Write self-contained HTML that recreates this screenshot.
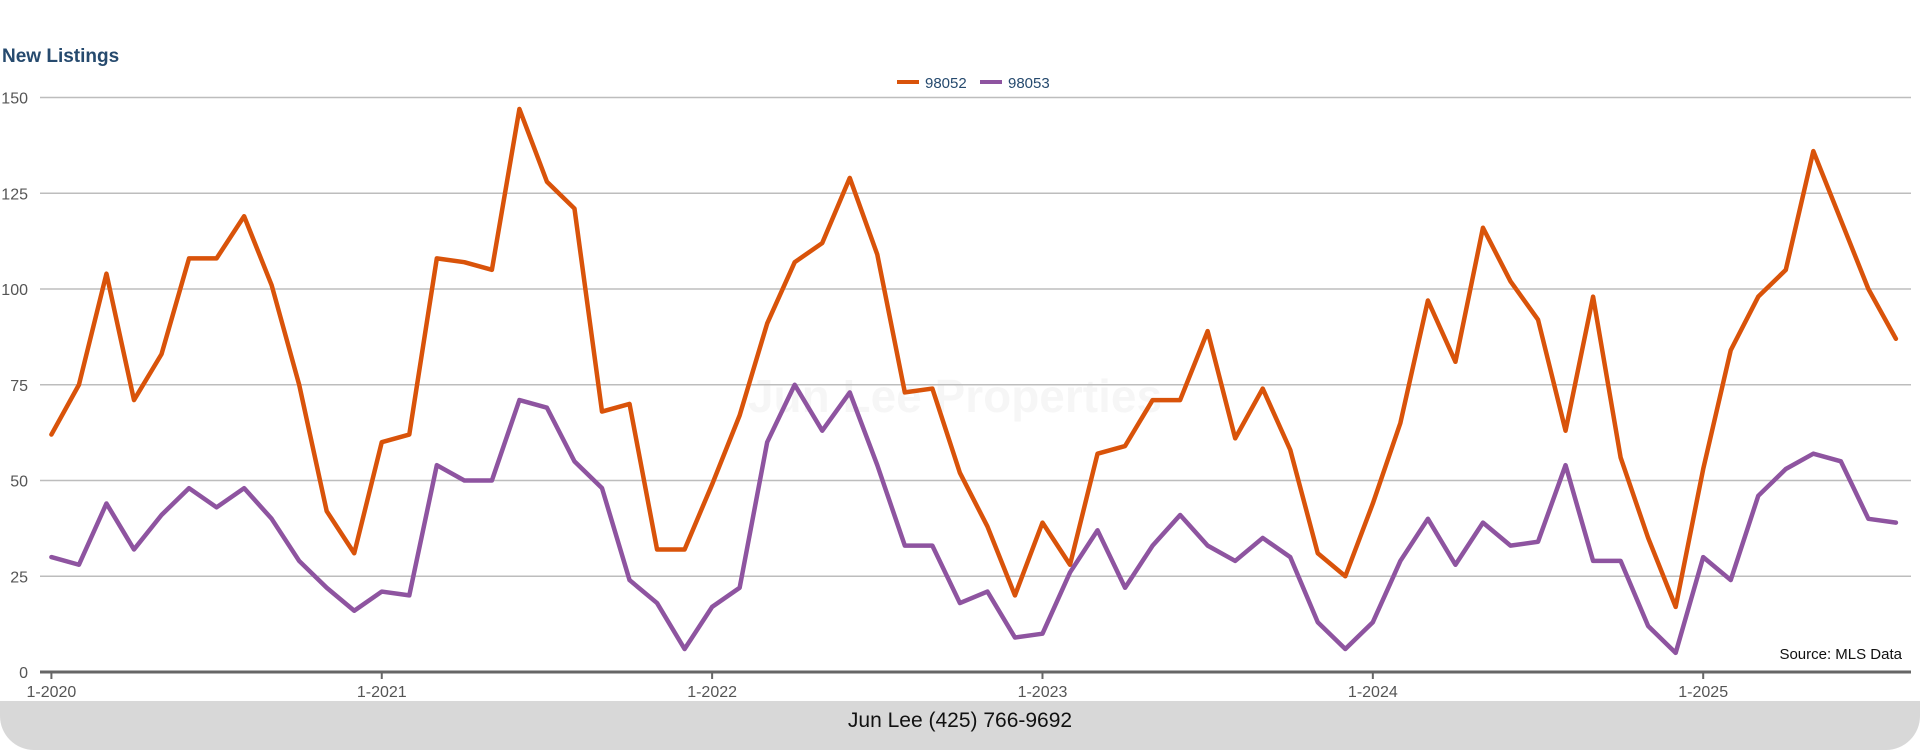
<!DOCTYPE html>
<html><head><meta charset="utf-8"><style>
body{margin:0;width:1920px;height:750px;background:#fff;overflow:hidden;font-family:"Liberation Sans",sans-serif}
#footer{position:absolute;left:0;top:701px;width:1920px;height:49px;background:#d8d8d8;border-radius:0 0 34px 34px;text-align:center;font-size:21px;line-height:40px;color:#111}
</style></head><body>
<svg id="chart" width="1920" height="750" style="position:absolute;left:0;top:0">
<text x="2" y="62" font-size="19" font-weight="bold" fill="#264a6e" font-family="Liberation Sans, sans-serif">New Listings</text>
<text x="955" y="412" font-size="46" font-weight="bold" fill="#000" opacity="0.03" text-anchor="middle" font-family="Liberation Sans, sans-serif">Jun Lee Properties</text>
<g id="grid"></g><g id="xaxis"></g><g id="series"></g>
<g>
<rect x="897" y="80" width="22" height="4" fill="#d9530a"/>
<text x="925" y="88" font-size="15" fill="#264a6e" font-family="Liberation Sans, sans-serif">98052</text>
<rect x="980" y="80" width="22" height="4" fill="#8e54a0"/>
<text x="1008" y="88" font-size="15" fill="#264a6e" font-family="Liberation Sans, sans-serif">98053</text>
</g>
<text x="1902" y="659" font-size="15" fill="#111" text-anchor="end" font-family="Liberation Sans, sans-serif">Source: MLS Data</text>
</svg>
<div id="footer">Jun Lee (425) 766-9692</div>
<script>
const yTicks=[0,25,50,75,100,125,150];
const xTickLabels=["1-2020","1-2021","1-2022","1-2023","1-2024","1-2025"];
const xTickIndex=[0,12,24,36,48,60];
const s98052=[62,75,104,71,83,108,108,119,101,75,42,31,60,62,108,107,105,147,128,121,68,70,32,32,49,67,91,107,112,129,109,73,74,52,38,20,39,28,57,59,71,71,89,61,74,58,31,25,44,65,97,81,116,102,92,63,98,56,35,17,53,84,98,105,136,118,100,87];
const s98053=[30,28,44,32,41,48,43,48,40,29,22,16,21,20,54,50,50,71,69,55,48,24,18,6,17,22,60,75,63,73,54,33,33,18,21,9,10,26,37,22,33,41,33,29,35,30,13,6,13,29,40,28,39,33,34,54,29,29,12,5,30,24,46,53,57,55,40,39];
const NS="http://www.w3.org/2000/svg";
const X0=51.4,DX=27.53,Y0=672,YTOP=97.5;
const xs=i=>X0+i*DX;
const ys=v=>Y0-(v/150)*(Y0-YTOP);
function mk(t,a,p){const e=document.createElementNS(NS,t);for(const k in a)e.setAttribute(k,a[k]);p.appendChild(e);return e;}
const grid=document.getElementById('grid');
yTicks.forEach(v=>{
  if(v>0){const l=mk('line',{x1:40,x2:1911,y1:ys(v),y2:ys(v),stroke:'#bdbdbd','stroke-width':1.5},grid);
  
  }
  const t=mk('text',{x:28,y:ys(v)+6,'font-size':16,fill:'#555','text-anchor':'end','font-family':'Liberation Sans, sans-serif'},grid);
  t.textContent=v;
  
  
});
const xa=document.getElementById('xaxis');
const ax=mk('line',{x1:40,x2:1911,y1:Y0,y2:Y0,stroke:'#666','stroke-width':3},xa);


xTickLabels.forEach((lab,k)=>{
  const x=xs(xTickIndex[k]);
  const tk=mk('line',{x1:x,x2:x,y1:Y0,y2:Y0+7,stroke:'#666','stroke-width':2},xa);
  
  
  const t=mk('text',{x:x,y:Y0+25,'font-size':16,fill:'#555','text-anchor':'middle','font-family':'Liberation Sans, sans-serif'},xa);
  t.textContent=lab;
  
  
});
const sg=document.getElementById('series');
[[s98052,'#d9530a','98052'],[s98053,'#8e54a0','98053']].forEach(([d,c,n])=>{
  const p=mk('polyline',{points:d.map((v,i)=>xs(i)+','+ys(v)).join(' '),fill:'none',stroke:c,'stroke-width':4.5,'stroke-linejoin':'round','stroke-linecap':'round'},sg);
  
  
});
</script>
</body></html>
